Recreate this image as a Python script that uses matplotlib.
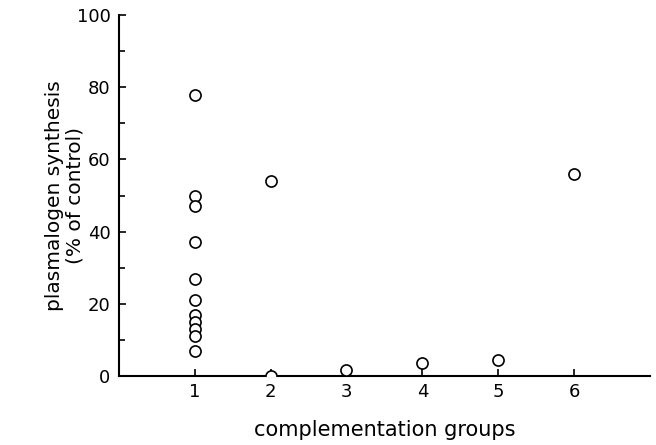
import numpy as np
import matplotlib.pyplot as plt

# complementation group of each cell line and its plasmalogen synthesis (% of control)
groups = [1, 1, 1, 1, 1, 1, 1, 1, 1, 1, 1, 2, 2, 3, 4, 5, 6]
synthesis = [78, 50, 47, 37, 27, 21, 17, 15, 13, 11, 7, 54, 0, 1.7, 3.5, 4.4, 56]

x_ticks = [1, 2, 3, 4, 5, 6]
y_ticks = [0, 20, 40, 60, 80, 100]

plt.rcParams['font.family'] = ['DejaVu Sans']

fig = plt.figure(figsize=(6.56, 4.45), dpi=100)
ax = fig.add_axes([0.181, 0.155, 0.81, 0.811])

# clipped at the axes, so the zero point shows as a half circle on the axis
ax.plot(groups, synthesis, 'o', markersize=8, markerfacecolor='white',
        markeredgecolor='black', markeredgewidth=1.2, linestyle='none',
        clip_on=True, zorder=3)

ax.set_xlim(0, 7)
ax.set_ylim(0, 100)
ax.spines['top'].set_visible(False)
ax.spines['right'].set_visible(False)
ax.spines['left'].set_linewidth(1.5)
ax.spines['bottom'].set_linewidth(1.5)

ax.set_xticks(x_ticks)
ax.set_yticks(y_ticks)
ax.set_yticks(np.arange(10, 100, 20), minor=True)
ax.tick_params(axis='both', direction='in', length=5, width=1.2, labelsize=13)
ax.tick_params(axis='y', pad=6)
ax.tick_params(axis='x', pad=5)
ax.tick_params(axis='y', which='minor', direction='in', length=4, width=1.2)

ax.set_xlabel('complementation groups', fontsize=15, labelpad=14)
ax.set_ylabel('plasmalogen synthesis\n(% of control)', fontsize=14.5, labelpad=-6,
              linespacing=1.1)

fig.savefig('out.png', dpi=100)
